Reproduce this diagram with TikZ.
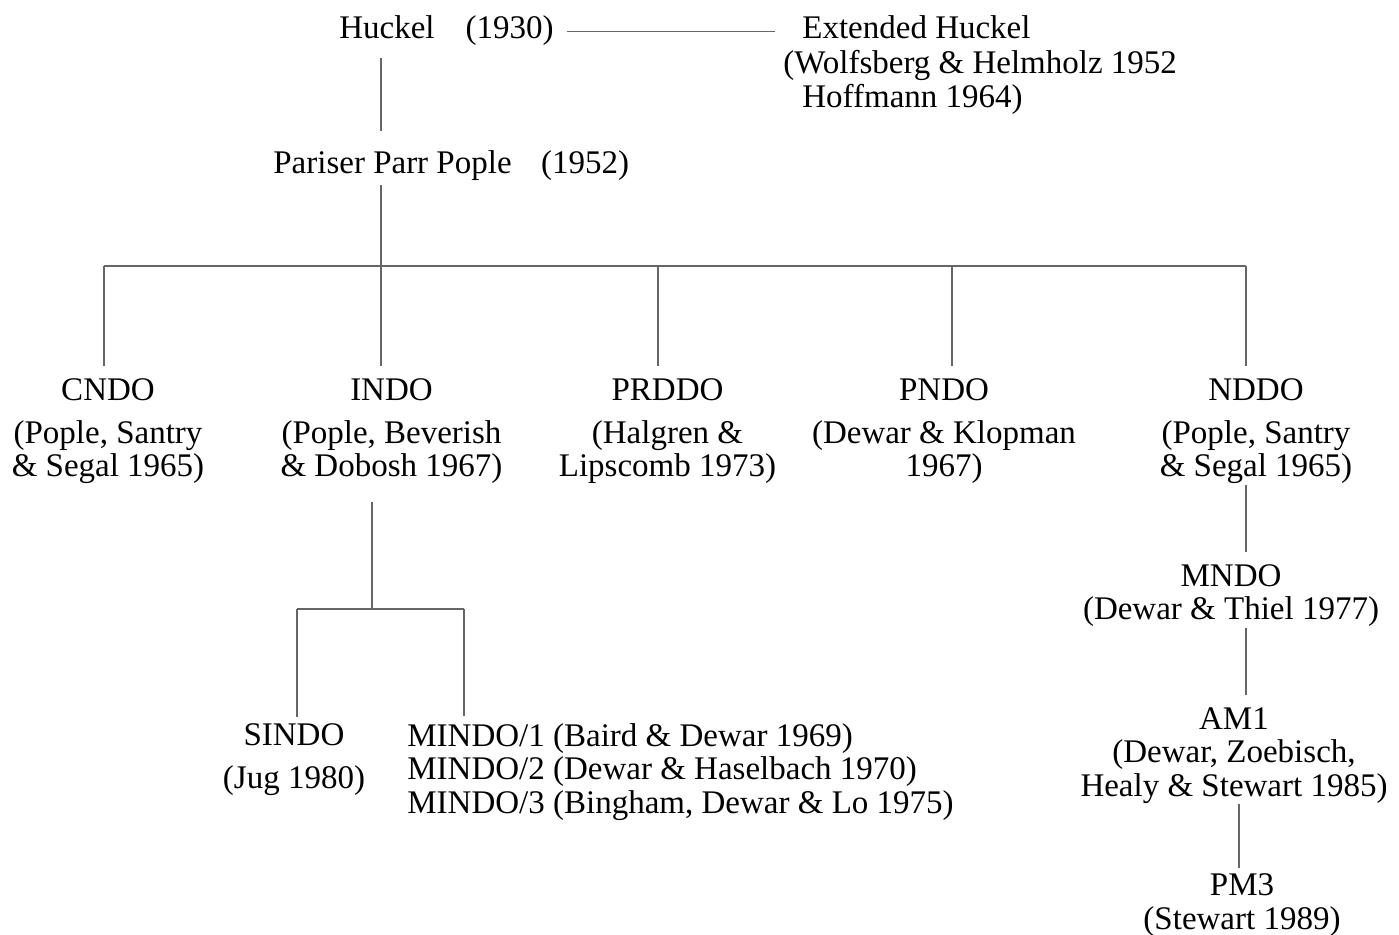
\documentclass[tikz,border=0pt]{standalone}
\usepackage{fontspec}
\setmainfont{Liberation Serif}
\usepackage{tikz}
\usetikzlibrary{positioning}
\tikzset{
    method/.style={font=\fontsize{16.5}{16.75}\selectfont, inner sep=0pt, align=center, anchor=base},
    methodleft/.style={method, align=left, anchor=base west},
    link/.style={draw=black!60, line width=0.55pt},
}

\begin{document}
\begin{tikzpicture}[x=0.5pt, y=-0.5pt]
	\useasboundingbox (0,0) rectangle (1399,935);
	% top of the tree
	\node[method] (huckel) at (387,39) {Huckel};
	\node[method] (huckelyr) at (509.5,39) {(1930)};
	\node[methodleft, font=\fontsize{16.5}{17.25}\selectfont] (ext) at (783,108) {\hspace{9.5pt}Extended Huckel\\(Wolfsberg \& Helmholz 1952\\\hspace{9.5pt}Hoffmann 1964)};
	\node[method] (ppp) at (392.5,174) {Pariser Parr Pople};
	\node[method] (pppyr) at (585,174) {(1952)};
	%
	\draw[link, shorten <=6.5pt, shorten >=4pt] (huckelyr.east) -- (huckelyr.east -| ext.west);
	\draw[link, shorten <=9pt, shorten >=10pt] ([xshift=-3pt]huckel.south) -- ([xshift=-3pt]huckel.south |- ppp.north);
	% second row
	\node[method] (cndo) at (108,477) {CNDO\\[4.75pt](Pople, Santry\\\& Segal 1965)};
	\node[method] (indo) at (391.5,477) {INDO\\[4.75pt](Pople, Beverish\\\& Dobosh 1967)};
	\node[method] (prddo) at (667.5,477) {PRDDO\\[4.75pt](Halgren \&\\Lipscomb 1973)};
	\node[method] (pndo) at (944,477) {PNDO\\[4.75pt](Dewar \& Klopman\\1967)};
	\node[method] (nddo) at (1256,477) {NDDO\\[4.75pt](Pople, Santry\\\& Segal 1965)};
	%
	\coordinate (bus) at (381,266);
	\draw[link, shorten <=2pt] (ppp.south -| bus) -- (bus);
	\foreach \n/\x in {cndo/104,indo/381,prddo/658,pndo/952,nddo/1246}{
		\coordinate (d\n) at (\x,266);
		\draw[link, shorten >=6pt] (d\n) -- (d\n |- \n.north);
	}
	\draw[link] (dcndo) -- (dnddo);
	% INDO branch
	\node[method] (sindo) at (294,788) {SINDO\\[4.25pt](Jug 1980)};
	\node[methodleft] (mindo) at (407,813) {MINDO/1 (Baird \& Dewar 1969)\\MINDO/2 (Dewar \& Haselbach 1970)\\MINDO/3 (Bingham, Dewar \& Lo 1975)};
	%
	\coordinate (sbus) at (372,609);
	\coordinate (dsindo) at (297,609);
	\coordinate (dmindo) at (464,609);
	\draw[link, shorten <=9pt] (indo.south -| sbus) -- (sbus);
	\draw[link] (dsindo) -- (dmindo);
	\draw[link, shorten >=3.5pt] (dsindo) -- (dsindo |- sindo.north);
	\draw[link, shorten >=3.5pt] (dmindo) -- (dmindo |- mindo.north);
	% NDDO branch
	\node[method] (mndo) at (1231,620) {MNDO\\(Dewar \& Thiel 1977)};
	\node[method] (am1) at (1234,796) {AM1\\(Dewar, Zoebisch,\\Healy \& Stewart 1985)};
	\node[method] (pm3) at (1242,929) {PM3\\(Stewart 1989)};
	%
	\draw[link, shorten >=6pt] ([xshift=-5pt]nddo.south) -- ([xshift=-5pt]nddo.south |- mndo.north);
	\draw[link, shorten <=0.5pt, shorten >=6pt] ([xshift=7.5pt]mndo.south) -- ([xshift=7.5pt]mndo.south |- am1.north);
	\draw[link, shorten >=2.5pt] ([xshift=2.5pt]am1.south) -- ([xshift=2.5pt]am1.south |- pm3.north);
\end{tikzpicture}
\end{document}
